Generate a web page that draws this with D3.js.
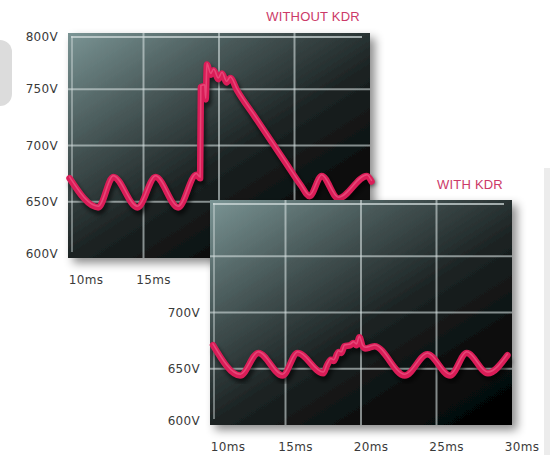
<!DOCTYPE html>
<html>
<head>
<meta charset="utf-8">
<script src="https://cdn.jsdelivr.net/npm/d3@7"></script>
<style>
  body { margin: 0; background: #fff; }
  svg { display: block; }
  .tick { font-family: "DejaVu Sans", sans-serif; font-size: 12px; fill: #3a3a3a; letter-spacing: 0.3px; }
  .title { font-family: "Liberation Sans", Arial, sans-serif; font-size: 13px; fill: #cc3a68; letter-spacing: 0.2px; }
</style>
</head>
<body>
<script>
//tick values shared by both scopes
var timeTicks = [10, 15, 20, 25, 30];
var voltTicks = [600, 650, 700, 750, 800];

//trace read from the upper scope (ms, volts)
var withoutTime  = [10.1, 12.0, 13.0, 14.6, 15.8, 17.3, 18.5, 18.75, 18.8, 19.05, 19.12, 19.2, 19.45, 19.65, 19.95, 20.2, 20.5, 20.75, 21.2, 22.4, 24.4, 25.4, 26.0, 26.8, 27.9, 29.8, 30.1];
var withoutVolts = [671, 645, 672, 645, 672, 645, 674, 671, 752, 753, 741, 772, 763, 767, 759, 764, 756, 760, 749, 725, 685, 665, 655, 673, 653, 673, 668];

//trace read from the lower scope (ms, volts)
var withTime  = [10.2, 12.0, 13.2, 14.8, 15.8, 17.5, 17.75, 18.0, 18.2, 18.5, 18.7, 18.9, 19.3, 19.5, 19.7, 19.9, 20.1, 20.3, 20.6, 20.9, 22.9, 24.4, 25.9, 27.0, 28.4, 29.7];
var withVolts = [671, 644, 664, 644, 664, 646, 653, 658, 657, 665, 664, 670, 671, 673, 671, 678, 670, 668, 669, 670, 644, 663, 644, 664, 646, 662];

var panelW = 302, panelH = 225;

var svg = d3.select("body").append("svg")
    .attr("width", 550)
    .attr("height", 455);

var defs = svg.append("defs");

//scope screen: grey-teal in the upper left fading to black at the lower right
var grad = defs.append("linearGradient")
    .attr("id", "screen")
    .attr("x1", 0).attr("y1", 0)
    .attr("x2", 0.85).attr("y2", 1);
grad.selectAll("stop")
    .data([[0, "#7a9494"], [0.3, "#475757"], [0.58, "#1c2323"], [0.82, "#0b0e0e"], [1, "#040505"]])
    .enter().append("stop")
    .attr("offset", function(d){ return d[0]; })
    .attr("stop-color", function(d){ return d[1]; });

var shadow = defs.append("filter")
    .attr("id", "panelShadow")
    .attr("x", -0.1).attr("y", -0.1)
    .attr("width", 1.3).attr("height", 1.3);
shadow.append("feDropShadow")
    .attr("dx", 5).attr("dy", 5)
    .attr("stdDeviation", 5)
    .attr("flood-color", "#000")
    .attr("flood-opacity", 0.45);

var blur = defs.append("filter").attr("id", "lineBlur");
blur.append("feGaussianBlur").attr("stdDeviation", 2);

//scales are the same for both scopes
var x = d3.scaleLinear().domain([10, 30]).range([0, panelW]);
var y = d3.scaleLinear().domain([600, 800]).range([panelH, 0]);

var line = d3.line()
    .x(function(d){ return x(d[0]); })
    .y(function(d){ return y(d[1]); })
    .curve(d3.curveMonotoneX);

//light gray page decorations at the edges
svg.append("rect").attr("x", -14).attr("y", 40).attr("width", 26).attr("height", 66)
    .attr("rx", 12).attr("fill", "#dcdcdc");
svg.append("rect").attr("x", 544).attr("y", 168).attr("width", 6).attr("height", 287)
    .attr("fill", "#ececec");

function yLabels(g, ticks){
    g.selectAll(".ylab")
        .data(ticks)
        .enter().append("text")
        .attr("class", "tick")
        .attr("text-anchor", "end")
        .attr("x", -10)
        .attr("y", function(d){ return Math.max(4, Math.min(panelH - 4, y(d))) + 4; })
        .text(function(d){ return d + "V"; });
}

function xLabels(g){
    g.selectAll(".xlab")
        .data(timeTicks)
        .enter().append("text")
        .attr("class", "tick")
        .attr("text-anchor", "middle")
        .attr("x", function(d){ return Math.max(18, x(d) + 10); })
        .attr("y", panelH + 26)
        .text(function(d){ return d + "ms"; });
}

function drawPanel(g, times, volts){
    g.append("rect")
        .attr("width", panelW)
        .attr("height", panelH)
        .attr("fill", "url(#screen)")
        .attr("filter", "url(#panelShadow)");

    var grid = g.append("g")
        .attr("stroke", "#d4dede")
        .attr("stroke-opacity", 0.6)
        .attr("stroke-width", 2);
    grid.selectAll(".v")
        .data(timeTicks.slice(1, -1))
        .enter().append("line")
        .attr("x1", function(d){ return x(d); })
        .attr("x2", function(d){ return x(d); })
        .attr("y1", 0).attr("y2", panelH);
    grid.selectAll(".h")
        .data(voltTicks.slice(1, -1))
        .enter().append("line")
        .attr("y1", function(d){ return y(d); })
        .attr("y2", function(d){ return y(d); })
        .attr("x1", 0).attr("x2", panelW);
    //highlight lines just inside the top and left edges
    grid.append("line").attr("x1", 3).attr("x2", panelW - 8).attr("y1", 4).attr("y2", 4)
        .attr("stroke-opacity", 0.7);
    grid.append("line").attr("x1", 4).attr("x2", 4).attr("y1", 3).attr("y2", panelH - 6)
        .attr("stroke-opacity", 0.45);

    var data = times.map(function(t, i){ return [t, volts[i]]; });

    g.append("path")
        .datum(data)
        .attr("d", line)
        .attr("transform", "translate(2,4)")
        .attr("fill", "none")
        .attr("stroke", "#000")
        .attr("stroke-opacity", 0.6)
        .attr("stroke-width", 7)
        .attr("filter", "url(#lineBlur)");
    g.append("path")
        .datum(data)
        .attr("d", line)
        .attr("fill", "none")
        .attr("stroke", "#da1d58")
        .attr("stroke-width", 6.5)
        .attr("stroke-linecap", "round")
        .attr("stroke-linejoin", "round");
    g.append("path")
        .datum(data)
        .attr("d", line)
        .attr("transform", "translate(0,-1.2)")
        .attr("fill", "none")
        .attr("stroke", "#f0628c")
        .attr("stroke-opacity", 0.6)
        .attr("stroke-width", 1.6)
        .attr("stroke-linecap", "round");
}

var topPos = [68, 33], botPos = [210, 200];

//lower scope: only the labels that are not covered by the upper scope
var botAxis = svg.append("g").attr("transform", "translate(" + botPos + ")");
yLabels(botAxis, voltTicks.filter(function(v){ return v <= 700; }));

var topG = svg.append("g").attr("transform", "translate(" + topPos + ")");
yLabels(topG, voltTicks);
xLabels(topG);
drawPanel(topG, withoutTime, withoutVolts);
topG.append("text").attr("class", "title")
    .attr("text-anchor", "middle")
    .attr("x", 245).attr("y", -12)
    .text("WITHOUT KDR");

var botG = svg.append("g").attr("transform", "translate(" + botPos + ")");
drawPanel(botG, withTime, withVolts);
xLabels(botG);
botG.append("text").attr("class", "title")
    .attr("text-anchor", "middle")
    .attr("x", 260).attr("y", -11)
    .text("WITH KDR");
</script>
</body>
</html>
